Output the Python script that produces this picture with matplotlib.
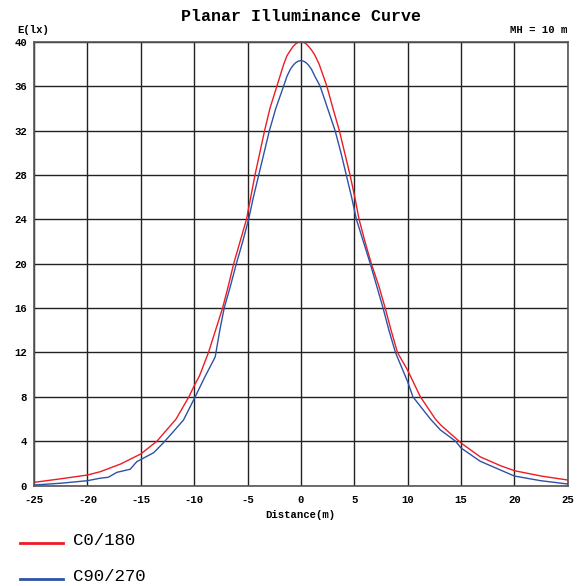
import matplotlib
matplotlib.use("Agg")
import matplotlib.pyplot as plt
from matplotlib.lines import Line2D

plt.rcParams["axes.unicode_minus"] = False

# values
c0_x = [-25, -22.5, -20, -18.8, -16.9, -15, -13.5, -11.7, -10.5, -10, -9.5, -8.66,
        -8, -7.34, -6.8, -6.3, -5.7, -5.1, -4.7, -4.3, -3.85, -3.4, -2.9, -2.25,
        -1.6, -1.3, -1.0, -0.75, -0.5, -0.25, 0, 0.25, 0.5, 0.75, 1.0, 1.3, 1.7,
        2.43, 3.0, 3.6, 4.1, 4.6, 5.05, 5.45, 6.0, 6.6, 7.3, 7.9, 8.45, 9.05,
        10, 11.2, 12.6, 13.1, 15, 16.8, 18.7, 20, 22.5, 25]
c0_y = [0.3, 0.62, 0.96, 1.26, 1.95, 2.86, 4.0, 6.0, 8.0, 9.0, 9.9, 12,
        14, 16, 18, 20, 22, 24, 26, 28, 30, 32, 34, 36,
        38, 38.75, 39.2, 39.55, 39.8, 39.95, 40, 39.95, 39.8, 39.55, 39.25, 38.8, 38,
        36, 34, 32, 30, 28, 26, 24, 22, 20, 18, 16, 14, 12,
        10.4, 8, 6, 5.47, 3.85, 2.6, 1.8, 1.35, 0.87, 0.51]

c90_x = [-25, -22.5, -20, -18.82, -18.04, -17.25, -16.0, -15.38, -13.8, -12.88,
         -12.09, -11.0, -9.91, -9, -8.03, -7.6, -7.19, -6.6, -6.05, -5.45, -4.9,
         -4.45, -3.95, -3.45, -2.95, -2.35, -1.62, -1.3, -1.0, -0.75, -0.5, -0.25,
         0, 0.25, 0.5, 0.75, 1.0, 1.3, 1.8, 2.5, 3.2, 3.75, 4.25, 4.75, 5.2,
         5.85, 6.5, 7.1, 7.7, 8.25, 8.86, 10, 10.5, 12.14, 13.07, 14.5, 15,
         16.2, 16.8, 18.7, 20, 22.46, 25]
c90_y = [0.06, 0.22, 0.45, 0.67, 0.76, 1.2, 1.48, 2.16, 2.97, 3.87,
         4.72, 5.92, 8.0, 9.8, 11.6, 14, 16, 18, 20, 22, 24,
         26, 28, 30, 32, 34, 36, 36.9, 37.5, 37.85, 38.1, 38.25,
         38.3, 38.25, 38.1, 37.85, 37.5, 36.9, 36, 34, 32, 30, 28, 26, 24,
         22, 20, 18, 16, 14, 12, 9.37, 8, 6, 5.02, 4.0, 3.4,
         2.6, 2.2, 1.41, 0.87, 0.45, 0.15]

x_ticks = [-25, -20, -15, -10, -5, 0, 5, 10, 15, 20, 25]
y_ticks = [0, 4, 8, 12, 16, 20, 24, 28, 32, 36, 40]

red = "#ec1c24"
blue = "#2d52a6"
mono = "Liberation Mono"

fig = plt.figure(figsize=(5.8, 5.86), dpi=100)
ax = fig.add_axes([0.0588, 0.1712, 0.92, 0.7576])

ax.plot(c0_x, c0_y, color=red, lw=1.0)
ax.plot(c90_x, c90_y, color=blue, lw=1.0)

ax.set_xlim(-25, 25)
ax.set_ylim(0, 40)
ax.set_xticks(x_ticks)
ax.set_yticks(y_ticks)
ax.grid(True, color="#222222", lw=1.0)
ax.set_axisbelow(True)
for s in ax.spines.values():
    s.set_color("#555555")
    s.set_linewidth(1.2)
ax.tick_params(length=0, pad=5)
for lab in ax.get_xticklabels() + ax.get_yticklabels():
    lab.set_family(mono)
    lab.set_fontweight("bold")
    lab.set_fontsize(7.7)
ax.tick_params(axis="x", pad=7)

fig.text(0.519, 0.971, "Planar Illuminance Curve", ha="center", va="center",
         family=mono, fontweight="bold", fontsize=12)
fig.text(0.029, 0.948, "E(lx)", ha="left", va="center",
         family=mono, fontweight="bold", fontsize=7.7)
fig.text(0.979, 0.948, "MH = 10 m", ha="right", va="center",
         family=mono, fontweight="bold", fontsize=7.7)
fig.text(0.517, 0.121, "Distance(m)", ha="center", va="center",
         family=mono, fontweight="bold", fontsize=7.7)

# legend below the plot
for yy, col, name in [(0.0734, red, "C0/180"), (0.0119, blue, "C90/270")]:
    fig.add_artist(Line2D([0.0345, 0.1086], [yy, yy], color=col, lw=2,
                          transform=fig.transFigure))
    fig.text(0.126, yy + 0.004, name, ha="left", va="center",
             family=mono, fontsize=12.5)

fig.savefig("out.png", dpi=100)
